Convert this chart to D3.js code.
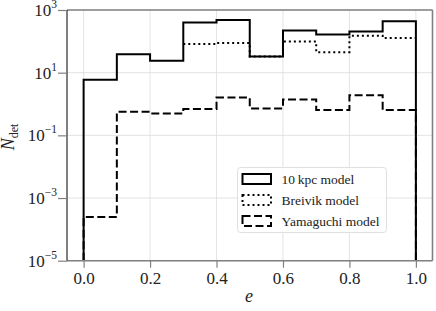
<!DOCTYPE html>
<html>
<head>
<meta charset="utf-8">
<script src="https://cdnjs.cloudflare.com/ajax/libs/d3/7.8.5/d3.min.js"></script>
<style>
  body { margin: 0; background: #fff; }
  svg { display: block; }
  text { font-family: "Liberation Serif", "DejaVu Serif", serif; fill: #222; }
</style>
</head>
<body>
<div id="chart"></div>
<script>
// bin edges for e
var edges = [0, 0.1, 0.2, 0.3, 0.4, 0.5, 0.6, 0.7, 0.8, 0.9, 1.0];

// N_det per bin
var kpc10 = [6.0, 39, 24, 400, 480, 33, 220, 165, 205, 435];
var breivik = [null, null, null, 82, 89, 33, 98, 45, 150, 128];
var yamaguchi = [0.00025, 0.57, 0.50, 0.69, 1.6, 0.72, 1.4, 0.64, 1.9, 0.64];

var xTicks = [0, 0.2, 0.4, 0.6, 0.8, 1.0];
var yTicks = [1e-5, 1e-3, 1e-1, 1e1, 1e3];
var yTickExp = ["\u22125", "\u22123", "\u22121", "1", "3"];

var legendLabels = ["10\u2009kpc model", "Breivik model", "Yamaguchi model"];

var svgWidth = 436;
var svgHeight = 311;

var svg = d3.select("#chart")
    .append("svg")
    .attr("width", svgWidth)
    .attr("height", svgHeight);

var pLeft = 67, pRight = 432.5, pTop = 10, pBottom = 260.7;

var x = d3.scaleLinear().domain([-0.05, 1.05]).range([pLeft, pRight]);
var y = d3.scaleLog().domain([1e-5, 1e3]).range([pBottom, pTop]);

// grid
svg.append("g").selectAll("line")
    .data(xTicks)
    .enter()
    .append("line")
    .attr("x1", d => x(d)).attr("x2", d => x(d))
    .attr("y1", pTop).attr("y2", pBottom)
    .attr("stroke", "#dcdcdc")
    .attr("stroke-width", 0.8);

svg.append("g").selectAll("line")
    .data(yTicks)
    .enter()
    .append("line")
    .attr("x1", pLeft).attr("x2", pRight)
    .attr("y1", d => y(d)).attr("y2", d => y(d))
    .attr("stroke", "#dcdcdc")
    .attr("stroke-width", 0.8);

// step path builder
function stepPoints(vals, dropEnds) {
    var pts = [];
    var first = vals.findIndex(v => v != null);
    if (dropEnds) pts.push([edges[first], 1e-5]);
    for (var i = first; i < vals.length; i++) {
        pts.push([edges[i], vals[i]]);
    }
    pts.push([edges[vals.length], vals[vals.length - 1]]);
    if (dropEnds) pts.push([edges[vals.length], 1e-5]);
    return pts;
}

var line = d3.line()
    .x(d => x(d[0]))
    .y(d => y(d[1]))
    .curve(d3.curveStepAfter);

var series = [
    {vals: kpc10, dash: null, drop: true},
    {vals: breivik, dash: "2,3", drop: false},
    {vals: yamaguchi, dash: "8,3.5", drop: true}
];

svg.append("g").selectAll("path")
    .data(series)
    .enter()
    .append("path")
    .attr("d", d => line(stepPoints(d.vals, d.drop)))
    .attr("fill", "none")
    .attr("stroke", "#000")
    .attr("stroke-width", 2)
    .attr("stroke-dasharray", d => d.dash);

// spines
svg.append("line").attr("x1", pLeft).attr("x2", pRight).attr("y1", pTop).attr("y2", pTop)
    .attr("stroke", "#808080").attr("stroke-width", 1.6);
svg.append("line").attr("x1", pRight).attr("x2", pRight).attr("y1", pTop).attr("y2", pBottom)
    .attr("stroke", "#808080").attr("stroke-width", 1.6);
svg.append("line").attr("x1", pLeft).attr("x2", pRight).attr("y1", pBottom).attr("y2", pBottom)
    .attr("stroke", "#808080").attr("stroke-width", 1.6);
svg.append("line").attr("x1", pLeft).attr("x2", pLeft).attr("y1", pTop).attr("y2", pBottom)
    .attr("stroke", "#000").attr("stroke-width", 1);

// x axis
var xAxis = d3.axisBottom(x)
    .tickValues(xTicks)
    .tickFormat(d3.format(".1f"))
    .tickSize(7)
    .tickPadding(4);

var gx = svg.append("g")
    .attr("transform", `translate(0, ${pBottom})`)
    .call(xAxis);
gx.select(".domain").remove();
gx.attr("font-family", "Liberation Serif");
gx.selectAll(".tick line").attr("stroke", "#808080").attr("stroke-width", 1.2);
gx.selectAll(".tick text")
    .attr("font-size", 17)
    .attr("dy", "0.71em")
    .attr("fill", "#222");

// y axis
var yAxis = d3.axisLeft(y)
    .tickValues(yTicks)
    .tickFormat("")
    .tickSize(9);

var gy = svg.append("g")
    .attr("transform", `translate(${pLeft}, 0)`)
    .call(yAxis);
gy.select(".domain").remove();
gy.selectAll(".tick line").attr("stroke", "#808080").attr("stroke-width", 1.2);

var yLab = svg.append("g").selectAll("text")
    .data(yTicks)
    .enter()
    .append("text")
    .attr("x", 57)
    .attr("y", d => y(d) + 6)
    .attr("text-anchor", "end")
    .attr("font-family", "Liberation Serif")
    .attr("font-size", 17);
yLab.append("tspan").text("10");
yLab.append("tspan")
    .attr("font-size", 11.5)
    .attr("dy", -8)
    .text((d, i) => yTickExp[i]);

// axis titles
svg.append("text")
    .attr("x", 249)
    .attr("y", 302)
    .attr("text-anchor", "middle")
    .attr("font-family", "Liberation Serif")
    .attr("font-size", 18)
    .attr("font-style", "italic")
    .text("e");

var yt = svg.append("text")
    .attr("transform", "translate(14, 137) rotate(-90)")
    .attr("text-anchor", "middle")
    .attr("font-family", "Liberation Serif")
    .attr("font-size", 18);
yt.append("tspan").attr("font-style", "italic").text("N");
yt.append("tspan").attr("font-size", 12).attr("dy", 4).text("det");

// legend
var lg = svg.append("g").attr("transform", "translate(237.5, 167.5)");
lg.append("rect")
    .attr("width", 149)
    .attr("height", 65)
    .attr("rx", 3)
    .attr("fill", "#fff")
    .attr("fill-opacity", 0.85)
    .attr("stroke", "#e0e0e0")
    .attr("stroke-width", 1);

var rows = lg.selectAll(".row")
    .data(series)
    .enter()
    .append("g")
    .attr("transform", (d, i) => `translate(0, ${11.5 + i * 21})`);

rows.append("rect")
    .attr("x", 5)
    .attr("y", -5)
    .attr("width", 28.5)
    .attr("height", 10)
    .attr("fill", "none")
    .attr("stroke", "#000")
    .attr("stroke-width", 2)
    .attr("stroke-dasharray", d => d.dash);

rows.append("text")
    .attr("x", 44)
    .attr("y", 5)
    .attr("font-family", "Liberation Serif")
    .attr("font-size", 13.5)
    .text((d, i) => legendLabels[i]);
</script>
</body>
</html>
